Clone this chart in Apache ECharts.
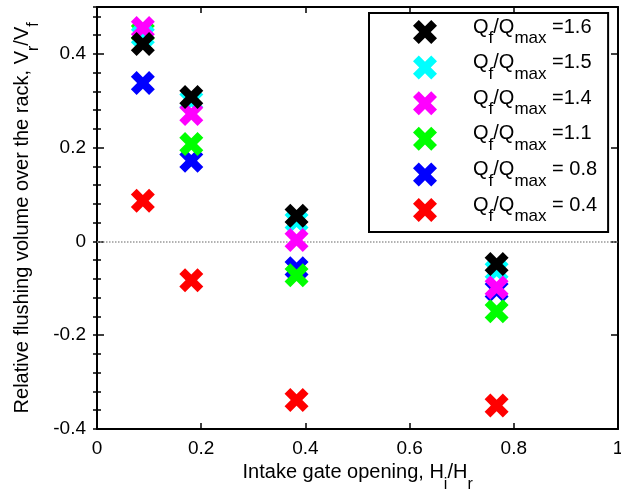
<!DOCTYPE html>
<html>
<head>
<meta charset="utf-8">
<script src="https://cdn.jsdelivr.net/npm/echarts@6/dist/echarts.min.js"></script>
<style>html,body{margin:0;padding:0;background:#fff;overflow:hidden}#c{width:621px;height:498px}</style>
</head>
<body>
<div id="c"></div>
<script>
// Data
const gateOpening = [0.088, 0.181, 0.383, 0.767];          // Hi/Hr
const ratioLabels = ['=1.6', '=1.5', '=1.4', '=1.1', '= 0.8', '= 0.4'];
const q16 = [0.421, 0.308, 0.055, -0.048];
const q15 = [0.438, 0.300, 0.043, -0.062];
const q14 = [0.455, 0.272, 0.003, -0.098];
const q11 = [0.446, 0.208, -0.072, -0.149];
const q08 = [0.338, 0.172, -0.057, -0.104];
const q04 = [0.087, -0.083, -0.338, -0.350];
const xTicks = [0, 0.2, 0.4, 0.6, 0.8, 1];
const yTicks = [-0.4, -0.2, 0, 0.2, 0.4];

const seriesDefs = [
  { name: ratioLabels[5], values: q04, color: '#ff0000' },
  { name: ratioLabels[4], values: q08, color: '#0000ff' },
  { name: ratioLabels[3], values: q11, color: '#00ff00' },
  { name: ratioLabels[1], values: q15, color: '#00ffff' },
  { name: ratioLabels[2], values: q14, color: '#ff00ff' },
  { name: ratioLabels[0], values: q16, color: '#000000' }
];

const XPATH = 'path://M0,2.4 L2.4,0 L5,2.6 L7.6,0 L10,2.4 L7.4,5 L10,7.6 L7.6,10 L5,7.4 L2.4,10 L0,7.6 L2.6,5 Z';
const FONT = '"Liberation Sans", Arial, sans-serif';

const richBase = {
  h: { fontSize: 1, lineHeight: 30 },
  m: { fontSize: 20, lineHeight: 24, verticalAlign: 'top', color: '#000', fontFamily: FONT },
  s: { fontSize: 16, lineHeight: 12, verticalAlign: 'bottom', color: '#000', fontFamily: FONT }
};

const chart = echarts.init(document.getElementById('c'), null, { renderer: 'canvas', width: 621, height: 498 });

const axisCommon = {
  axisLine: { show: true, onZero: false, lineStyle: { color: '#000', width: 2 } },
  splitLine: { show: false }
};

const series = seriesDefs.map((d, i) => {
  const s = {
    name: d.name,
    type: 'scatter',
    xAxisIndex: 0,
    yAxisIndex: 0,
    symbol: XPATH,
    symbolSize: 24,
    itemStyle: { color: d.color, opacity: 1 },
    data: gateOpening.map((x, k) => [x, d.values[k]]),
    z: 3 + i
  };
  if (i === 0) {
    s.markLine = {
      silent: true,
      symbol: 'none',
      label: { show: false },
      lineStyle: { color: '#999', type: 'dotted', width: 1.5 },
      data: [{ yAxis: 0 }],
      z: 1
    };
  }
  return s;
});

chart.setOption({
  animation: false,
  backgroundColor: '#fff',
  grid: { left: 97, right: 3, top: 7, bottom: 69, containLabel: false, outerBoundsMode: 'none' },
  xAxis: [
    Object.assign({}, axisCommon, {
      type: 'value', position: 'bottom', min: xTicks[0], max: xTicks[xTicks.length - 1], interval: 0.2,
      axisTick: { show: true, inside: true, length: 6, lineStyle: { color: '#000', width: 1.5 } },
      axisLabel: { show: true, margin: 10, fontSize: 19, color: '#000', fontFamily: FONT,
        formatter: v => String(+v.toFixed(1)) },
      name: '{h| }{m|Intake gate opening, H}{s|i}{m|/H}{s|r}',
      nameLocation: 'middle', nameGap: 29,
      nameTextStyle: { rich: richBase }
    }),
    Object.assign({}, axisCommon, {
      type: 'value', position: 'top', min: xTicks[0], max: xTicks[xTicks.length - 1], interval: 0.2,
      axisTick: { show: true, inside: true, length: 6, lineStyle: { color: '#000', width: 1.5 } },
      axisLabel: { show: false }
    })
  ],
  yAxis: [
    Object.assign({}, axisCommon, {
      type: 'value', position: 'left', min: yTicks[0], max: 0.5, interval: 0.2,
      axisTick: { show: true, inside: true, length: 7, lineStyle: { color: '#000', width: 1.5 } },
      axisLabel: { show: true, margin: 11, fontSize: 19, color: '#000', fontFamily: FONT, showMaxLabel: false,
        formatter: v => String(+v.toFixed(1)) },
      name: '{h| }{m|Relative flushing volume over the rack, V}{s|r}{m|/V}{s|f}',
      nameLocation: 'middle', nameGap: 55,
      nameTextStyle: { rich: richBase }
    }),
    Object.assign({}, axisCommon, {
      type: 'value', position: 'left', offset: 0, min: yTicks[0], max: 0.5, interval: 0.04,
      axisLine: { show: false },
      axisTick: { show: true, inside: true, length: 4, lineStyle: { color: '#000', width: 1.5 } },
      axisLabel: { show: false }
    }),
    Object.assign({}, axisCommon, {
      type: 'value', position: 'right', offset: 0, min: yTicks[0], max: 0.5, interval: 0.2,
      axisTick: { show: true, inside: true, length: 7, lineStyle: { color: '#000', width: 1.5 } },
      axisLabel: { show: false }
    }),
    Object.assign({}, axisCommon, {
      type: 'value', position: 'right', offset: 0, min: yTicks[0], max: 0.5, interval: 0.04,
      axisLine: { show: false },
      axisTick: { show: true, inside: true, length: 4, lineStyle: { color: '#000', width: 1.5 } },
      axisLabel: { show: false }
    })
  ],
  legend: {
    data: ratioLabels,
    orient: 'vertical',
    left: 369, top: 13,
    padding: [4, 11, 7, 44],
    itemGap: 5.6,
    itemWidth: 24, itemHeight: 24,
    icon: XPATH,
    backgroundColor: '#fff',
    borderColor: '#000', borderWidth: 2, borderRadius: 0,
    selectedMode: false,
    formatter: n => '{sp| }{q|Q}{s|f}{q|/Q}{s|max}{q| ' + n + '}',
    textStyle: {
      rich: {
        sp: { width: 31, lineHeight: 30, fontSize: 1 },
        q: { fontSize: 20, lineHeight: 28, verticalAlign: 'top', color: '#000', fontFamily: FONT },
        s: { fontSize: 17, lineHeight: 12, verticalAlign: 'bottom', color: '#000', fontFamily: FONT }
      }
    }
  },
  series: series
});
</script>
</body>
</html>
